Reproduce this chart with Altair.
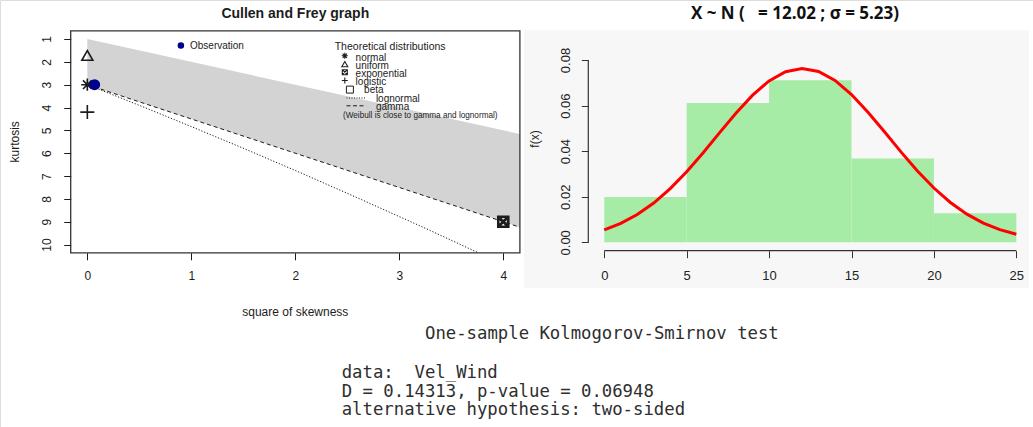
import altair as alt
import pandas as pd

W, H = 1033, 427

# ---------------- data: Cullen and Frey graph ----------------
skew_ticks = [0, 1, 2, 3, 4]
kurt_ticks = [1, 2, 3, 4, 5, 6, 7, 8, 9, 10]
skew_domain = [-0.16, 4.16]
kurt_domain = [0.64, 10.36]

obs_skew2 = [0.07]
obs_kurt = [3.0]

normal_pt = ([0.0], [3.0])
uniform_pt = ([0.0], [1.72])
logistic_pt = ([0.0], [4.2])
expo_pt = ([4.0], [9.0])

beta_skew2 = [0.0, 4.16]
beta_upper = [1.0, 5.16]
beta_lower = [3.0, 9.24]

gamma_skew2 = [0.0, 4.16]
gamma_kurt = [3.0, 9.24]

lognorm_skew2 = [0.0, 0.465, 0.961, 1.488, 2.048, 2.641, 3.267, 3.76]
lognorm_kurt = [3.0, 3.84, 4.76, 5.76, 6.85, 8.04, 9.32, 10.36]

legend_items = ["normal", "uniform", "exponential", "logistic", "beta", "lognormal", "gamma"]
legend_title = "Theoretical distributions"
legend_note = "(Weibull is close to gamma and lognormal)"
obs_label = "Observation"

# ---------------- data: histogram ----------------
hist_x_ticks = [0, 5, 10, 15, 20, 25]
hist_y_ticks = [0.00, 0.02, 0.04, 0.06, 0.08]
bin_start = [0, 5, 10, 15, 20]
bin_end = [5, 10, 15, 20, 25]
density = [0.0199, 0.0611, 0.0711, 0.0368, 0.0127]
curve_x = list(range(0, 26))
curve_y = [0.00544, 0.00829, 0.01217, 0.01724, 0.02354, 0.03099, 0.03933, 0.04812,
           0.05677, 0.06457, 0.07080, 0.07484, 0.07628, 0.07495, 0.07101, 0.06485,
           0.05710, 0.04848, 0.03967, 0.03131, 0.02382, 0.01747, 0.01235, 0.00842,
           0.00554, 0.00351]

NB = "\u00a0"
title_left = "Cullen and Frey graph"
title_right = "X ~ N (" + NB * 3 + "= 12.02 ; σ = 5.23)"
ks_lines = ["One-sample Kolmogorov-Smirnov test",
            "data:" + NB * 2 + "Vel_Wind",
            "D = 0.14313, p-value = 0.06948",
            "alternative hypothesis: two-sided"]

# ---------------- layout (pixels) ----------------
LX0, LX1, LY0, LY1 = 70.7, 519.9, 30.8, 252.8
RX0, RX1, RY0, RY1 = 587.8, 1032.8, 52.7, 249.6
R_AXIS_Y = 250.7
R_AXIS_X = 588.3
RFONT = "Liberation Sans"
INK = "#1c1c1c"

ASTER = "M-1,0L1,0M0,-1L0,1M-0.71,-0.71L0.71,0.71M-0.71,0.71L0.71,-0.71"
TRI = "M0,-0.87L1,0.87L-1,0.87Z"
PLUS = "M-1,0L1,0M0,-1L0,1"
SQX = "M-1,-1L1,-1L1,1L-1,1ZM-1,-1L1,1M-1,1L1,-1"
SQ = "M-1,-1L1,-1L1,1L-1,1Z"


def txt(s, x, y, size, font=RFONT, color=INK, align="left", weight="normal", angle=0, baseline="middle"):
    kw = dict(align=align, baseline=baseline, fontSize=size, font=font, color=color, fontWeight=weight)
    if angle:
        kw["angle"] = angle
    return alt.Chart(pd.DataFrame({"t": [s]})).mark_text(**kw).encode(
        x=alt.value(x), y=alt.value(y), text="t:N")


# ---------------- left panel ----------------
lx = dict(scale=alt.Scale(domain=skew_domain, range=[LX0, LX1], nice=False, zero=False))
ly = dict(scale=alt.Scale(domain=kurt_domain, range=[LY0, LY1], nice=False, zero=False))

x_axis_left = alt.Axis(values=skew_ticks, orient="bottom", offset=LY1 - H, domain=False, grid=False,
                       tickSize=7, tickColor=INK, labelPadding=11, labelFontSize=12, labelFont=RFONT,
                       labelColor=INK, title=None, labelBaseline="top", format="d", zindex=1)
y_axis_left = alt.Axis(values=kurt_ticks, orient="left", offset=-LX0, domain=False, grid=False,
                       tickSize=7, tickColor=INK, labelPadding=10, labelFontSize=12, labelFont=RFONT,
                       labelColor=INK, title=None, labelAngle=270, labelAlign="center",
                       labelBaseline="bottom", format="d", zindex=1)

beta_df = pd.DataFrame({"s2": beta_skew2, "up": beta_upper, "lo": beta_lower})
beta_area = alt.Chart(beta_df).mark_area(color="#d3d3d3", opacity=1).encode(
    x=alt.X("s2:Q", axis=x_axis_left, **lx),
    y=alt.Y("up:Q", axis=y_axis_left, **ly),
    y2="lo:Q")

gamma_line = alt.Chart(pd.DataFrame({"s2": gamma_skew2, "k": gamma_kurt})).mark_line(
    color=INK, strokeWidth=1, strokeDash=[4, 3]).encode(x="s2:Q", y="k:Q")
lognorm_line = alt.Chart(pd.DataFrame({"s2": lognorm_skew2, "k": lognorm_kurt})).mark_line(
    color=INK, strokeWidth=1, strokeDash=[1.2, 1.8]).encode(x="s2:Q", y="k:Q")


def pts(p, shape, size, sw=1.6, filled=False, color=INK):
    df = pd.DataFrame({"s2": p[0], "k": p[1]})
    if filled:
        m = alt.Chart(df).mark_point(shape=shape, size=size, filled=True, color=color, opacity=1)
    else:
        m = alt.Chart(df).mark_point(shape=shape, size=size, filled=False, color=color,
                                     strokeWidth=sw, opacity=1)
    return m.encode(x="s2:Q", y="k:Q")


p_uniform = pts(uniform_pt, TRI, 121, 1.6)
p_logistic = pts(logistic_pt, PLUS, 196, 1.6)
p_normal = pts(normal_pt, ASTER, 150, 1.6)
p_expo = pts(expo_pt, SQX, 100, 2.6)
p_obs = pts((obs_skew2, obs_kurt), "circle", 121, filled=True, color="#00008b")

frame_left = alt.Chart(pd.DataFrame({"t": [0]})).mark_rect(
    fillOpacity=0, stroke="#333333", strokeWidth=1.3).encode(
    x=alt.value(LX0), x2=alt.value(LX1), y=alt.value(LY0), y2=alt.value(LY1))

left = alt.layer(beta_area, gamma_line, lognorm_line, p_uniform, p_logistic, p_normal,
                 p_expo, p_obs, frame_left)

# ---------------- right panel ----------------
rx = dict(scale=alt.Scale(domain=[-1, 26], range=[RX0, RX1], nice=False, zero=False))
ry = dict(scale=alt.Scale(domain=[0.0832, -0.0032], range=[RY0, RY1], nice=False, zero=False))

x_axis_right = alt.Axis(values=hist_x_ticks, orient="bottom", offset=R_AXIS_Y - H, domain=False,
                        grid=False, tickSize=7, tickColor="#333333", labelPadding=12, labelFontSize=13,
                        labelFont=RFONT, labelColor="#222222", title=None, labelBaseline="top",
                        format="d", zindex=2)
y_axis_right = alt.Axis(values=hist_y_ticks, orient="left", offset=-R_AXIS_X, domain=False,
                        grid=False, tickSize=7, tickColor="#333333", labelPadding=9, labelFontSize=13,
                        labelFont=RFONT, labelColor="#222222", title=None, labelAngle=270,
                        labelAlign="center", labelBaseline="bottom", format=".2f", zindex=2)

bars_df = pd.DataFrame({"a": bin_start, "b": bin_end, "d": density})
bars = alt.Chart(bars_df).mark_rect(color="#a6eba6", opacity=1).encode(
    x=alt.X("a:Q", axis=x_axis_right, **rx), x2="b:Q",
    y=alt.Y("d:Q", axis=y_axis_right, **ry), y2=alt.Y2(datum=0))

curve = alt.Chart(pd.DataFrame({"x": curve_x, "y": curve_y})).mark_line(
    color="#ff0000", strokeWidth=3).encode(x="x:Q", y="y:Q")

x_domain_line = alt.Chart(pd.DataFrame({"t": [0]})).mark_rule(color="#333333", strokeWidth=1.2).encode(
    x=alt.X(datum=hist_x_ticks[0]), x2=alt.X2(datum=hist_x_ticks[-1]), y=alt.value(R_AXIS_Y))
y_domain_line = alt.Chart(pd.DataFrame({"t": [0]})).mark_rule(color="#333333", strokeWidth=1.2).encode(
    y=alt.Y(datum=hist_y_ticks[0]), y2=alt.Y2(datum=hist_y_ticks[-1]), x=alt.value(R_AXIS_X))

right = alt.layer(bars, curve, x_domain_line, y_domain_line)

# ---------------- background + annotations ----------------
panel_bg = alt.Chart(pd.DataFrame({"t": [0]})).mark_rect(color="#f7f7f7").encode(
    x=alt.value(524), x2=alt.value(1029), y=alt.value(30), y2=alt.value(288))

ann = [
    txt(title_left, (LX0 + LX1) / 2, 14, 14, weight="bold", align="center"),
    txt("kurtosis", 15, (LY0 + LY1) / 2, 12, angle=270, align="center"),
    txt("square of skewness", (LX0 + LX1) / 2, 311.5, 12, align="center"),
    txt(title_right, 795, 14, 17, font="Open Sans", weight="bold", align="center", color="#111111"),
    txt("f(x)", 535, 139, 12, angle=270, align="center", color="#222222"),
    txt(obs_label, 190, 46, 10),
    txt(legend_title, 334.7, 47, 10.5),
    txt(legend_note, 343, 115.5, 8.2),
]

# legend symbols
leg_sym_x = 344.8
sym_specs = [(ASTER, 55.8, 36, 1.1), (TRI, 64.2, 36, 1.1), (SQX, 72.2, 25, 1.1), (PLUS, 80.5, 36, 1.1),
             (SQ, 89.6, 49, 1.0)]
legend_text_pos = [(355.6, 57.5), (355.6, 65.6), (355.6, 73.6), (355.6, 81.6), (364.1, 90.2),
                   (375.9, 98.8), (375.9, 107.2)]
for (shape, y, size, sw), item in zip(sym_specs, legend_items):
    xx = leg_sym_x if shape != SQ else 349.9
    ann.append(alt.Chart(pd.DataFrame({"t": [item]})).mark_point(
        shape=shape, size=size, filled=False, color=INK, strokeWidth=sw, opacity=1).encode(
        x=alt.value(xx), y=alt.value(y)))
for (xx, yy), item in zip(legend_text_pos, legend_items):
    ann.append(txt(item, xx, yy, 10))
ann.append(alt.Chart(pd.DataFrame({"t": [0]})).mark_rule(color=INK, strokeWidth=1, strokeDash=[1, 1.5]).encode(
    x=alt.value(346.5), x2=alt.value(365.1), y=alt.value(98)))
ann.append(alt.Chart(pd.DataFrame({"t": [0]})).mark_rule(color=INK, strokeWidth=1, strokeDash=[4, 2.5]).encode(
    x=alt.value(346.5), x2=alt.value(365.1), y=alt.value(105.8)))
ann.append(alt.Chart(pd.DataFrame({"t": [0]})).mark_point(
    shape="circle", size=42, filled=True, color="#00008b", opacity=1).encode(
    x=alt.value(180.9), y=alt.value(45.6)))

# KS test output
MONO = "DejaVu Sans Mono"
ann.append(txt(ks_lines[0], 425, 334, 17.3, font=MONO, color="#2e2e2e"))
for line, yy in zip(ks_lines[1:], [373.3, 391.7, 410.0]):
    ann.append(txt(line, 341.7, yy, 17.3, font=MONO, color="#2e2e2e"))

chart = alt.layer(panel_bg, left, right, *ann).resolve_scale(
    x="independent", y="independent").properties(
    width=W, height=H, autosize=alt.AutoSizeParams(type="none"), padding=0
).configure_view(stroke=None).configure(background="white")

chart.save("out.html", embed_options={"renderer": "svg", "actions": False})
